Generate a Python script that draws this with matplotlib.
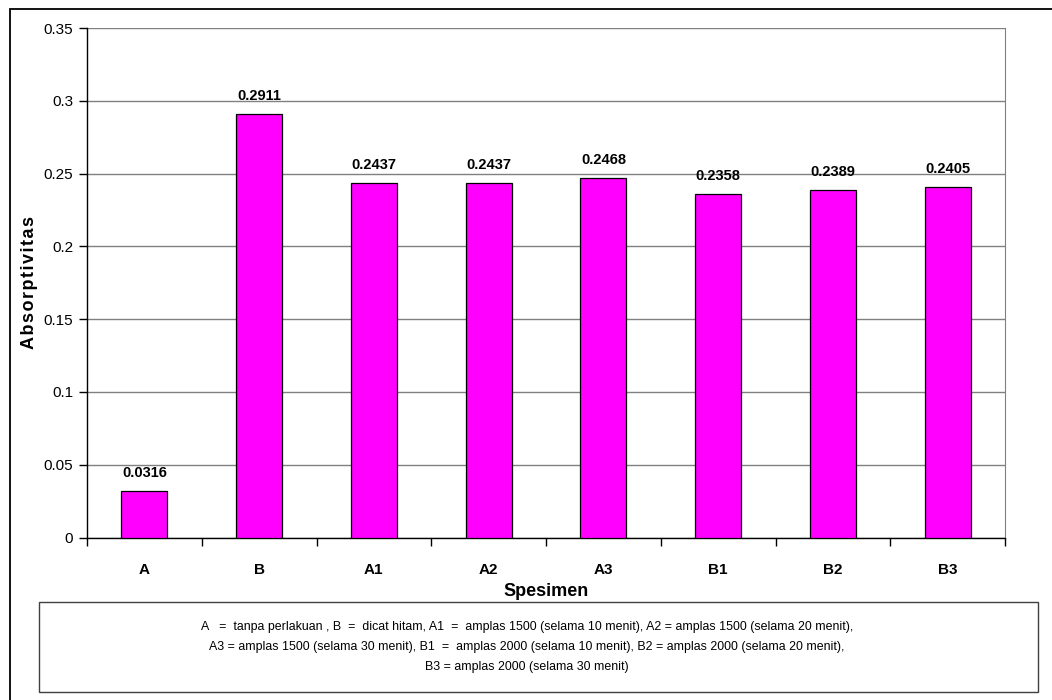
import matplotlib.pyplot as plt
from matplotlib.patches import Rectangle

plt.rcParams['font.family'] = ['Liberation Sans', 'DejaVu Sans']

# absorptivity per specimen
specimens = ['A', 'B', 'A1', 'A2', 'A3', 'B1', 'B2', 'B3']
absorptivity = [0.0316, 0.2911, 0.2437, 0.2437, 0.2468, 0.2358, 0.2389, 0.2405]
y_ticks = [0, 0.05, 0.1, 0.15, 0.2, 0.25, 0.3, 0.35]
y_tick_labels = ['0', '0.05', '0.1', '0.15', '0.2', '0.25', '0.3', '0.35']

note_lines = [
    'A   =  tanpa perlakuan , B  =  dicat hitam, A1  =  amplas 1500 (selama 10 menit), A2 = amplas 1500 (selama 20 menit),',
    'A3 = amplas 1500 (selama 30 menit), B1  =  amplas 2000 (selama 10 menit), B2 = amplas 2000 (selama 20 menit),',
    'B3 = amplas 2000 (selama 30 menit)',
]

W, H = 1052, 700
fig = plt.figure(figsize=(W / 100, H / 100), dpi=100)

# outer chart frame (only left and top edges fall inside the canvas)
fig.patches.append(Rectangle((10 / W, -0.2), 1.2, 1.2 - 9 / H, transform=fig.transFigure,
                             fill=False, edgecolor='black', linewidth=1.3))

ax = fig.add_axes([87 / W, 1 - 537.5 / H, (1005 - 87) / W, (537.5 - 28) / H])

x = range(len(specimens))
bars = ax.bar(x, absorptivity, width=0.4, color='#ff00ff', edgecolor='black', linewidth=0.9, zorder=3)

for xi, v in zip(x, absorptivity):
    ax.annotate(f'{v:.4f}', (xi, v), xytext=(0, 8), textcoords='offset points',
                ha='center', va='bottom', fontsize=10.5, fontweight='bold', zorder=4)

ax.set_xlim(-0.5, len(specimens) - 0.5)
ax.set_ylim(0, 0.35)
ax.set_yticks(y_ticks)
ax.set_yticklabels(y_tick_labels, fontsize=11)
ax.yaxis.grid(True, color='#808080', linewidth=1.0, zorder=0)

# category labels centred, tick marks at the category boundaries
ax.set_xticks(list(x))
ax.set_xticklabels(specimens, fontsize=11, fontweight='bold')
ax.tick_params(axis='x', length=0, pad=18)
ax.set_xticks([i - 0.5 for i in range(len(specimens) + 1)], minor=True)
ax.tick_params(axis='x', which='minor', length=6, width=1, direction='out')
ax.tick_params(axis='y', length=6, width=1, direction='out', pad=4)

for s in ['left', 'bottom']:
    ax.spines[s].set_color('black')
    ax.spines[s].set_linewidth(1.0)
ax.spines['right'].set_color('#808080')
ax.spines['top'].set_visible(False)

ax.set_xlabel('Spesimen', fontsize=13, fontweight='bold', labelpad=5)
ax.set_ylabel('A b s o r p t i v i t a s'.replace(' ', '\u200a'), fontsize=13, fontweight='bold', labelpad=4)

# explanatory note box
fig.patches.append(Rectangle((39 / W, 1 - 692 / H), (1038 - 39) / W, (692 - 602) / H,
                             transform=fig.transFigure, fill=False, edgecolor='#404040', linewidth=1.0))
for i, line in enumerate(note_lines):
    fig.text(527 / W, 1 - (627 + 20 * i) / H, line, ha='center', va='center', fontsize=8.9)

fig.savefig('out.png', dpi=100)
